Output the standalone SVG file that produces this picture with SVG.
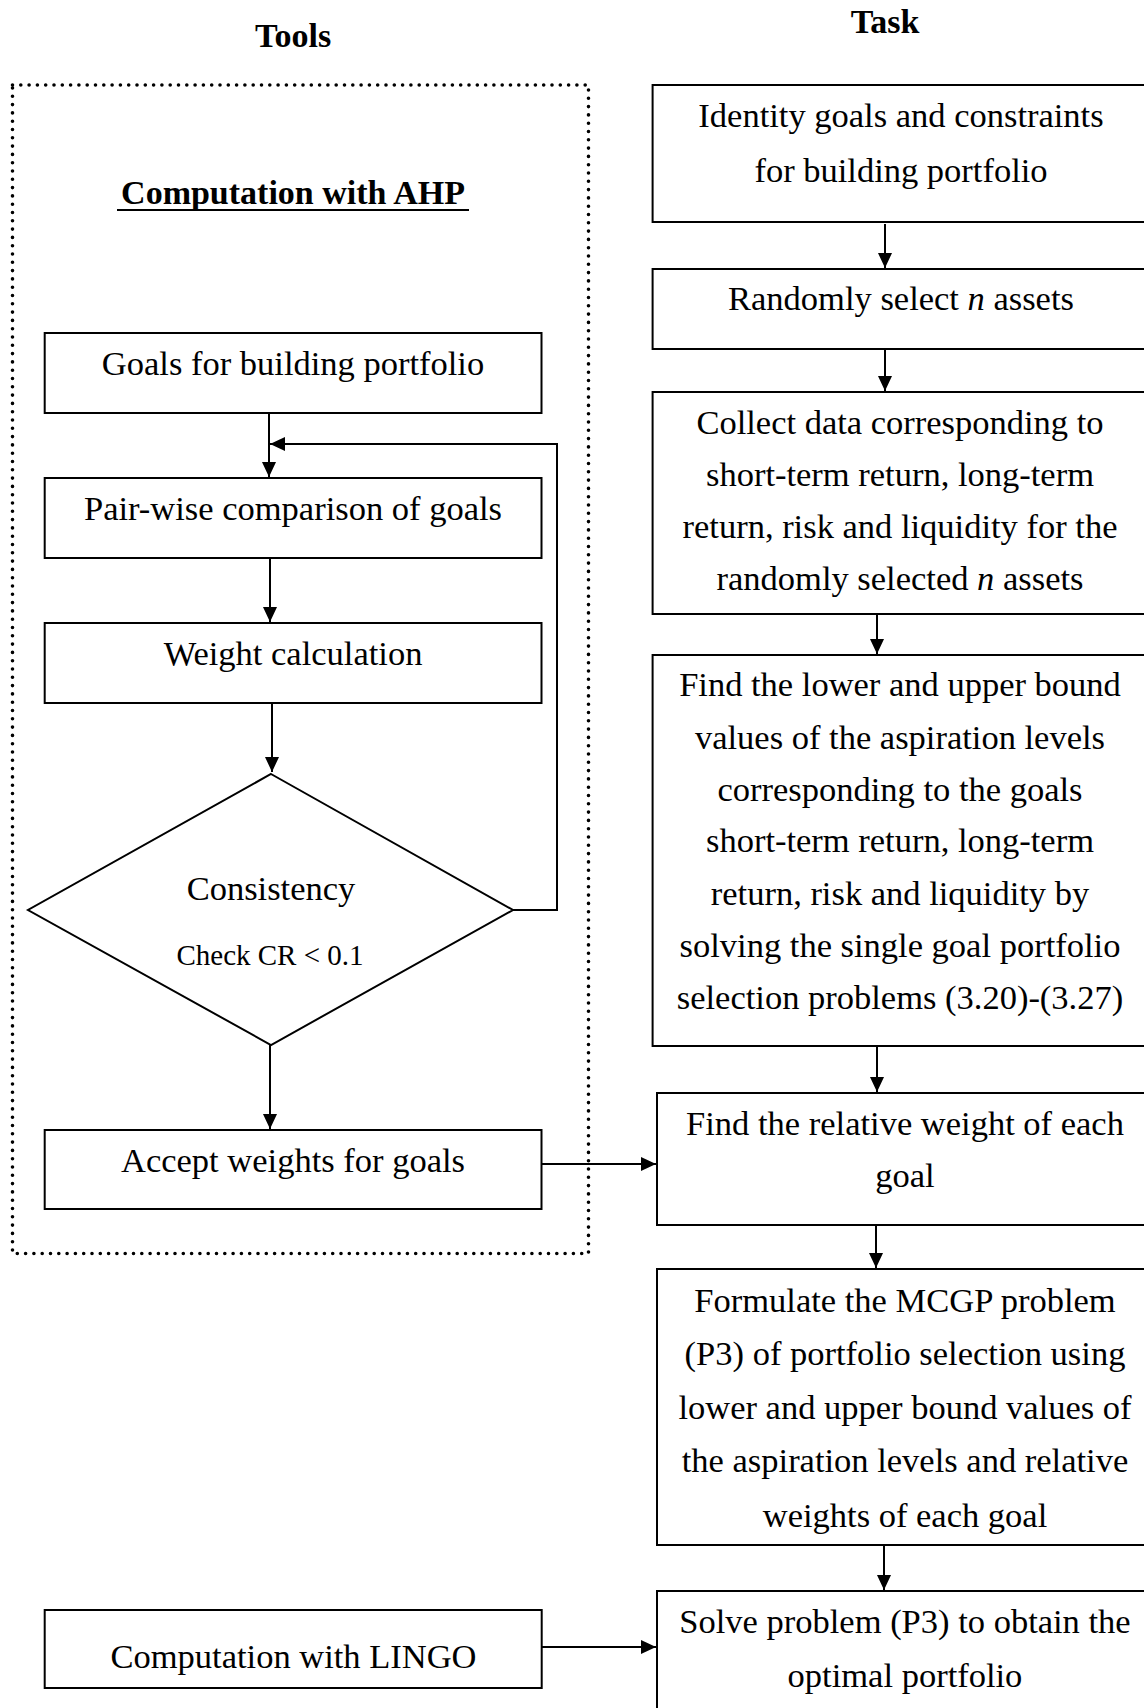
<svg xmlns="http://www.w3.org/2000/svg" width="1144" height="1708" viewBox="0 0 1144 1708">
<style>
text{font-family:"Liberation Serif","Times New Roman",serif;font-size:34.5px;fill:#000;text-anchor:middle}
.h{font-weight:bold;font-size:34px}
.box{fill:#fff;stroke:#000;stroke-width:2}
.con{fill:none;stroke:#000;stroke-width:2}
.dot{fill:none;stroke:#000;stroke-width:3.6;stroke-dasharray:0 8.3;stroke-linecap:round}
.sm{font-size:29px}
</style>
<defs>
<marker id="ah" viewBox="0 0 15 14" markerWidth="15" markerHeight="14" refX="15" refY="7" orient="auto" markerUnits="userSpaceOnUse">
<path d="M0,0 L15,7 L0,14 z" fill="#000"/>
</marker>
</defs>
<rect width="1144" height="1708" fill="#fff"/>
<g id="headings">
<text class="h" x="293" y="47">Tools</text>
<text class="h" x="885" y="33">Task</text>
</g>
<g id="ahp-group">
<rect class="dot" x="12.5" y="85" width="576" height="1168.5"/>
<text class="h" x="293" y="204">Computation with AHP</text>
<line x1="117" y1="210" x2="469" y2="210" stroke="#000" stroke-width="2.2"/>
</g>
<g id="goals">
<rect class="box" x="44.7" y="333" width="496.8" height="80"/>
<text x="293" y="375">Goals for building portfolio</text>
</g>
<g id="pairwise">
<rect class="box" x="44.7" y="478" width="496.8" height="80"/>
<text x="293" y="520">Pair-wise comparison of goals</text>
</g>
<g id="weightcalc">
<rect class="box" x="44.7" y="623" width="496.8" height="80"/>
<text x="293" y="665">Weight calculation</text>
</g>
<g id="consistency">
<polygon class="box" points="271,774 513,910 271,1045 28,910"/>
<text x="271" y="900">Consistency</text>
<text class="sm" x="270" y="965">Check CR &lt; 0.1</text>
</g>
<g id="accept">
<rect class="box" x="44.7" y="1130" width="496.8" height="79"/>
<text x="293" y="1172">Accept weights for goals</text>
</g>
<g id="lingo">
<rect class="box" x="44.7" y="1610" width="497" height="78"/>
<text x="293.5" y="1668">Computation with LINGO</text>
</g>
<g id="identify">
<rect class="box" x="652.6" y="85" width="500" height="137"/>
<text x="901" y="127">Identity goals and constraints</text>
<text x="901" y="182">for building portfolio</text>
</g>
<g id="select">
<rect class="box" x="652.6" y="269" width="500" height="80"/>
<text x="901" y="310">Randomly select <tspan font-style="italic">n</tspan> assets</text>
</g>
<g id="collect">
<rect class="box" x="652.6" y="392" width="500" height="222"/>
<text x="900" y="434">Collect data corresponding to</text>
<text x="900" y="486">short-term return, long-term</text>
<text x="900" y="538">return, risk and liquidity for the</text>
<text x="900" y="590">randomly selected <tspan font-style="italic">n</tspan> assets</text>
</g>
<g id="bounds">
<rect class="box" x="652.6" y="655" width="500" height="391"/>
<text x="900" y="696">Find the lower and upper bound</text>
<text x="900" y="748.5">values of the aspiration levels</text>
<text x="900" y="800.5">corresponding to the goals</text>
<text x="900" y="852">short-term return, long-term</text>
<text x="900" y="904.5">return, risk and liquidity by</text>
<text x="900" y="956.5">solving the single goal portfolio</text>
<text x="900" y="1009">selection problems (3.20)-(3.27)</text>
</g>
<g id="relweight">
<rect class="box" x="657" y="1093" width="500" height="132"/>
<text x="905" y="1135">Find the relative weight of each</text>
<text x="905" y="1187">goal</text>
</g>
<g id="formulate">
<rect class="box" x="657" y="1269" width="500" height="276"/>
<text x="905" y="1312">Formulate the MCGP problem</text>
<text x="905" y="1365">(P3) of portfolio selection using</text>
<text x="905" y="1419">lower and upper bound values of</text>
<text x="905" y="1472">the aspiration levels and relative</text>
<text x="905" y="1527">weights of each goal</text>
</g>
<g id="solve">
<rect class="box" x="657" y="1591" width="500" height="140"/>
<text x="905" y="1633">Solve problem (P3) to obtain the</text>
<text x="905" y="1687">optimal portfolio</text>
</g>
<g id="connectors">
<line class="con" x1="269" y1="413" x2="269" y2="477" marker-end="url(#ah)"/>
<polyline class="con" points="513,910 557,910 557,444 270,444" marker-end="url(#ah)"/>
<line class="con" x1="270" y1="558" x2="270" y2="622" marker-end="url(#ah)"/>
<line class="con" x1="272" y1="703" x2="272" y2="772" marker-end="url(#ah)"/>
<line class="con" x1="270" y1="1045" x2="270" y2="1129" marker-end="url(#ah)"/>
<line class="con" x1="541.5" y1="1164" x2="656" y2="1164" marker-end="url(#ah)"/>
<line class="con" x1="541.5" y1="1647" x2="656" y2="1647" marker-end="url(#ah)"/>
<line class="con" x1="885" y1="224" x2="885" y2="268" marker-end="url(#ah)"/>
<line class="con" x1="885" y1="350" x2="885" y2="391" marker-end="url(#ah)"/>
<line class="con" x1="877" y1="615" x2="877" y2="654" marker-end="url(#ah)"/>
<line class="con" x1="877" y1="1047" x2="877" y2="1092" marker-end="url(#ah)"/>
<line class="con" x1="876" y1="1226" x2="876" y2="1268" marker-end="url(#ah)"/>
<line class="con" x1="884" y1="1546" x2="884" y2="1590" marker-end="url(#ah)"/>
</g>
</svg>
